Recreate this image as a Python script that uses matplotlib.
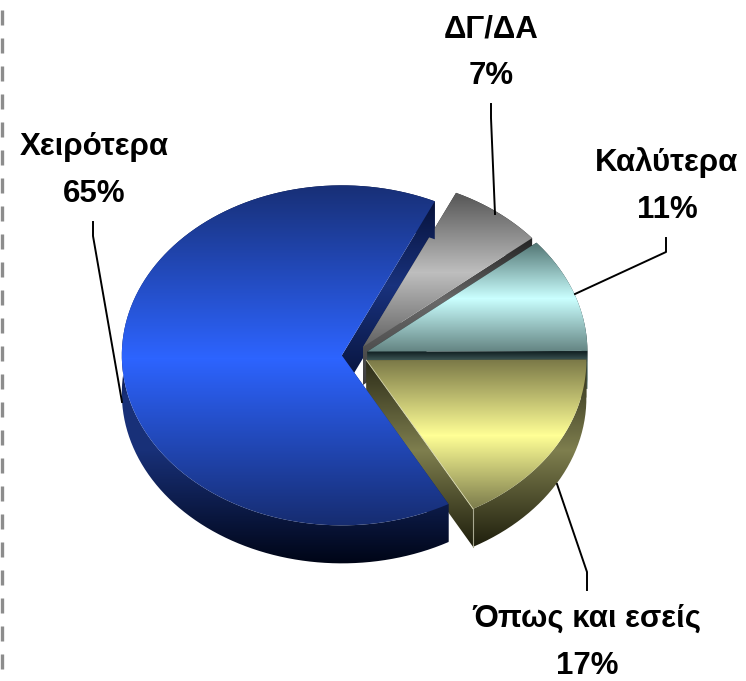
import numpy as np
import matplotlib
matplotlib.use("Agg")
import matplotlib.pyplot as plt
from matplotlib.path import Path

labels = ["Χειρότερα", "Όπως και εσείς", "Καλύτερα", "ΔΓ/ΔΑ"]
values = [65, 17, 11, 7]

W, H = 746, 681
# pie centre and radii in pixels, the picture is a squashed 3d pie
CX, CY, RX, RY = 355, 355, 220, 170
DEPTH = 38 / RY

plt.rcParams['font.family'] = ['Liberation Sans']

# colour stops: (pixel y, rgb), top face and side for every slice
blue_top = [(187, (24, 48, 120)), (358, (45, 100, 255)), (525, (22, 44, 112))]
blue_side = [(205, (8, 20, 62)), (285, (25, 50, 125)), (372, (9, 22, 66)), (395, (24, 48, 120)),
             (450, (24, 48, 120)), (563, (0, 5, 22))]
grey_top = [(197, (92, 92, 92)), (272, (190, 190, 190)), (348, (95, 95, 95))]
grey_side = [(241, (38, 38, 38)), (300, (105, 105, 105)), (386, (60, 60, 60))]
teal_top = [(245, (88, 124, 122)), (298, (202, 255, 255)), (352, (98, 130, 128))]
teal_side = [(352, (22, 38, 40)), (362, (72, 100, 98)), (390, (72, 100, 98))]
yellow_top = [(360, (124, 122, 72)), (435, (255, 255, 150)), (508, (124, 124, 76))]
yellow_side = [(360, (44, 44, 24)), (450, (126, 126, 78)), (547, (30, 30, 12))]

fig = plt.figure(figsize=(W / 100, H / 100), dpi=100)
ax = fig.add_axes([0, 0, 1, 1])

wedges, _ = ax.pie(values, startangle=65, explode=[0.06] * 4, radius=1)
ax.set_aspect('auto')
ax_extent = [-CX / RX, (W - CX) / RX, -(H - CY) / RY, CY / RY]

order = [0]


def gradient(stops):
    ys = np.arange(H)
    pos = [s[0] for s in stops]
    rgb = np.zeros((H, 1, 3))
    for i in range(3):
        rgb[:, 0, i] = np.interp(ys, pos, [s[1][i] for s in stops]) / 255
    return rgb


def shade(path, stops):
    order[0] += 1
    im = ax.imshow(gradient(stops), extent=ax_extent, aspect='auto', origin='upper',
                   interpolation='nearest', zorder=order[0])
    im.set_clip_path(path, ax.transData)


def arc(w, n=120):
    t = np.radians(np.linspace(w.theta1, w.theta2, n))
    return np.column_stack([w.center[0] + w.r * np.cos(t), w.center[1] + w.r * np.sin(t)])


def top_path(w):
    pts = np.vstack([[w.center], arc(w), [w.center]])
    return Path(pts)


def band_path(w):
    a = arc(w)
    low = a - [0, DEPTH]
    return Path(np.vstack([a, low[::-1], a[:1]]))


def face_path(w, end):
    c = np.array(w.center)
    p = arc(w)[end]
    return Path(np.array([c, p, p - [0, DEPTH], c - [0, DEPTH], c]))


for w in wedges:
    w.set_visible(False)

blue, yellow, teal, grey = wedges

# back to front
shade(face_path(blue, 0), blue_side)
for w, top, side in [(grey, grey_top, grey_side), (teal, teal_top, teal_side),
                     (yellow, yellow_top, yellow_side)]:
    shade(band_path(w), side)
    shade(face_path(w, 0), side)
    shade(face_path(w, -1), side)
    shade(top_path(w), top)

# thin light edges on the yellow slice
p = arc(yellow)[0]
ax.plot([yellow.center[0], p[0]], [yellow.center[1], p[1]], color='#d8d8b0', lw=0.6, zorder=order[0] + 1)
ax.plot([p[0], p[0]], [p[1], p[1] - DEPTH], color='#a8a890', lw=0.8, zorder=order[0] + 1)
order[0] += 2

shade(band_path(blue), blue_side)
shade(face_path(blue, -1), blue_side)
shade(top_path(blue), blue_top)

ax.set_xlim(ax_extent[0], ax_extent[1])
ax.set_ylim(ax_extent[2], ax_extent[3])
ax.axis('off')

# labels, leader lines and the dashed edge are placed in pixels
over = fig.add_axes([0, 0, 1, 1])
over.set_xlim(0, W)
over.set_ylim(H, 0)
over.axis('off')

over.plot([1.5, 1.5], [10, 670], color='#8c8c8c', lw=2.4, linestyle=(0, (4.5, 3.9)), dash_capstyle='butt')

leaders = [
    ([93, 93, 122], [222, 236, 402]),
    ([587, 587, 557], [590, 572, 484]),
    ([666, 666, 575], [238, 252, 294]),
    ([491, 491, 495], [104, 118, 214]),
]
for lx, ly in leaders:
    over.plot(lx, ly, color='black', lw=1.4)

text_pos = [(94, 147), (587, 619), (667, 163), (491, 29)]
for lab, val, (tx, ty) in zip(labels, values, text_pos):
    over.text(tx, ty, lab, ha='center', va='center', fontsize=22.5, fontweight='bold')
    over.text(tx, ty + 47, f"{val}%", ha='center', va='center', fontsize=22.5, fontweight='bold')

fig.savefig("out.png", dpi=100)
